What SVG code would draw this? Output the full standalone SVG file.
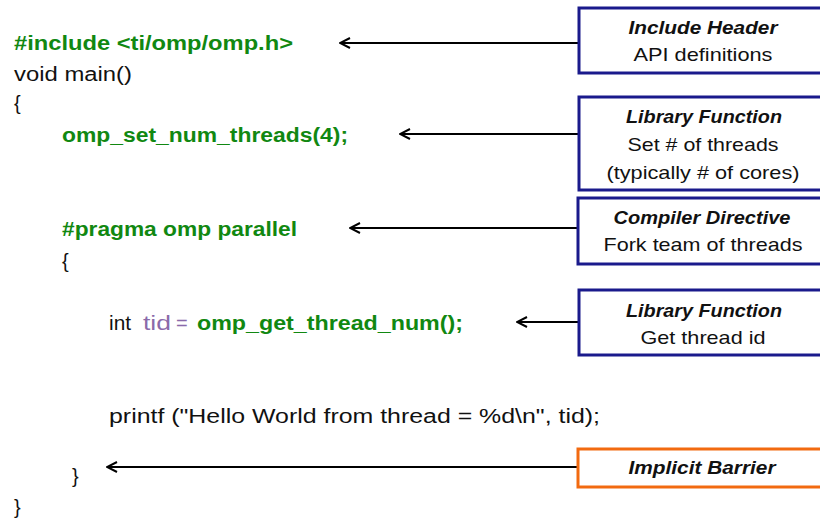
<svg xmlns="http://www.w3.org/2000/svg" width="820" height="520" viewBox="0 0 820 520">
<defs>
<style>
.code{font-family:"Liberation Sans",Arial,sans-serif;font-size:20px;fill:#111}
.g{fill:#118811;font-weight:bold}
.p{fill:#8a6aaa}
.box{fill:#fff;stroke:#1a1a8c;stroke-width:3}
.obox{fill:#fff;stroke:#f26a10;stroke-width:3}
.t{font-family:"Liberation Sans",Arial,sans-serif;font-size:19px;fill:#111;text-anchor:middle}
.h{font-weight:bold;font-style:italic}
.c{stroke:#000;stroke-width:2;fill:none;marker-end:url(#ah)}
</style>
<marker id="ah" viewBox="0 0 12 12" refX="11" refY="6" markerWidth="12" markerHeight="12" markerUnits="userSpaceOnUse" orient="auto">
<path d="M1,1 L11,6 L1,11" fill="none" stroke="#000" stroke-width="2"/>
</marker>
</defs>
<rect width="820" height="520" fill="#fff"/>
<g id="code">
<text class="code g" x="14" y="50" textLength="279" lengthAdjust="spacingAndGlyphs">#include &lt;ti/omp/omp.h&gt;</text>
<text class="code" x="14" y="81" textLength="118" lengthAdjust="spacingAndGlyphs">void main()</text>
<text class="code" x="14" y="110">{</text>
<text class="code g" x="62" y="142" textLength="286" lengthAdjust="spacingAndGlyphs">omp_set_num_threads(4);</text>
<text class="code g" x="62" y="236" textLength="235" lengthAdjust="spacingAndGlyphs">#pragma omp parallel</text>
<text class="code" x="62" y="268">{</text>
<text class="code" x="109" y="330" textLength="22" lengthAdjust="spacingAndGlyphs">int</text>
<text class="code p" x="143" y="330" textLength="28" lengthAdjust="spacingAndGlyphs">tid</text>
<text class="code p" x="176" y="330">=</text>
<text class="code g" x="197" y="330" textLength="266" lengthAdjust="spacingAndGlyphs">omp_get_thread_num();</text>
<text class="code" x="109" y="423" textLength="491" lengthAdjust="spacingAndGlyphs">printf ("Hello World from thread = %d\n", tid);</text>
<text class="code" x="72" y="483">}</text>
<text class="code" x="14" y="514">}</text>
</g>
<g id="connectors">
<line class="c" x1="579" y1="43" x2="340" y2="43"/>
<line class="c" x1="579" y1="134" x2="400" y2="134"/>
<line class="c" x1="579" y1="228" x2="350" y2="228"/>
<line class="c" x1="579" y1="322" x2="517" y2="322"/>
<line class="c" x1="578" y1="467" x2="107" y2="467"/>
</g>
<g id="include-header">
<rect class="box" x="579" y="8" width="250" height="65"/>
<text class="t h" x="703" y="34" textLength="149" lengthAdjust="spacingAndGlyphs">Include Header</text>
<text class="t" x="703" y="61" textLength="139" lengthAdjust="spacingAndGlyphs">API definitions</text>
</g>
<g id="library-function-1">
<rect class="box" x="579" y="97" width="250" height="93"/>
<text class="t h" x="704" y="123" textLength="156" lengthAdjust="spacingAndGlyphs">Library Function</text>
<text class="t" x="703" y="151" textLength="151" lengthAdjust="spacingAndGlyphs">Set # of threads</text>
<text class="t" x="703" y="179" textLength="193" lengthAdjust="spacingAndGlyphs">(typically # of cores)</text>
</g>
<g id="compiler-directive">
<rect class="box" x="578" y="198" width="250" height="66"/>
<text class="t h" x="702" y="224" textLength="177" lengthAdjust="spacingAndGlyphs">Compiler Directive</text>
<text class="t" x="703" y="251" textLength="199" lengthAdjust="spacingAndGlyphs">Fork team of threads</text>
</g>
<g id="library-function-2">
<rect class="box" x="579" y="290" width="250" height="65"/>
<text class="t h" x="704" y="317" textLength="156" lengthAdjust="spacingAndGlyphs">Library Function</text>
<text class="t" x="703" y="344" textLength="125" lengthAdjust="spacingAndGlyphs">Get thread id</text>
</g>
<g id="implicit-barrier">
<rect class="obox" x="578" y="449" width="250" height="38"/>
<text class="t h" x="702" y="474" textLength="147" lengthAdjust="spacingAndGlyphs">Implicit Barrier</text>
</g>
</svg>
